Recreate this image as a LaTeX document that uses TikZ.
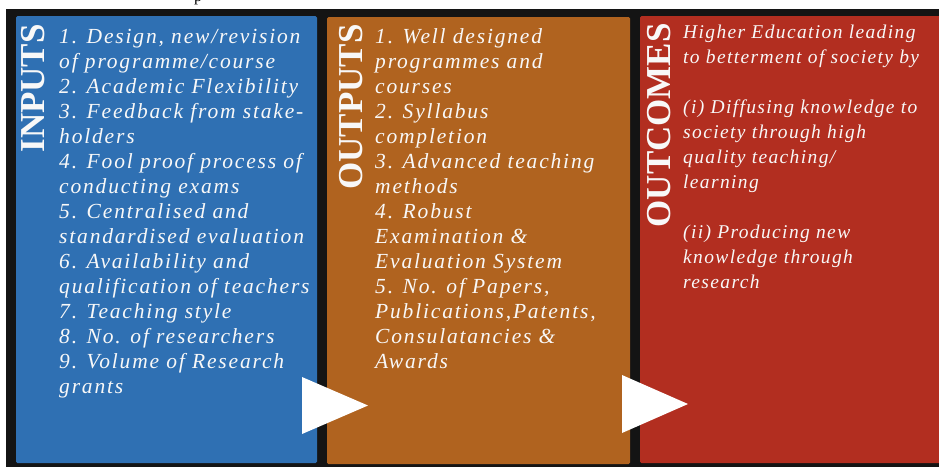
\documentclass[tikz,border=0pt]{standalone}
\usepackage{fontspec}
\setmainfont{Liberation Serif}
\newfontfamily\bodyfont[LetterSpace=8.5]{Liberation Serif}
\newfontfamily\redfont[LetterSpace=7]{Liberation Serif}
\definecolor{bgdark}{RGB}{20,20,20}
\definecolor{inblue}{RGB}{47,112,179}
\definecolor{outorange}{RGB}{176,99,31}
\definecolor{outcred}{RGB}{178,46,32}
\definecolor{txtwhite}{RGB}{248,248,248}
\tikzset{
  panel/.style={draw=none, rounded corners=1.5pt, inner sep=0pt, minimum width=#1},
  paneltitle/.style={rotate=90, anchor=base east, inner sep=0pt, text=txtwhite,
    font=\bfseries\fontsize{35}{35}\selectfont},
  paneltext/.style={anchor=north west, inner sep=0pt, align=left, text=txtwhite,
    font=\bodyfont\itshape\fontsize{21.5}{25}\selectfont},
  redtext/.style={anchor=north west, inner sep=0pt, align=left, text=txtwhite,
    font=\redfont\itshape\fontsize{19.5}{25}\selectfont},
  flowtri/.style={fill=white, draw=none}
}
\begin{document}
\begin{tikzpicture}[x=1pt,y=-1pt]
\useasboundingbox (0,0) rectangle (939,467);
\clip (0,0) rectangle (939,467);
\fill[white] (0,0) rectangle (939,467);
\node[anchor=base, inner sep=0pt, font=\fontsize{16}{16}\selectfont] (cut) at (198,1) {p};
\fill[bgdark] (6,9) rectangle (939,467);
% panels
\node[panel=301pt, fill=inblue, minimum height=447pt] (inputs) at (166.5,239.5) {};
\node[panel=303pt, fill=outorange, minimum height=447pt] (outputs) at (478.5,240.5) {};
\node[panel=305pt, fill=outcred, minimum height=447pt] (outcomes) at (792.5,239.5) {};
% titles
\node[paneltitle] (tin) at (44,24) {INPUTS};
\node[paneltitle] (tout) at (362,24) {OUTPUTS};
\node[paneltitle] (toc) at (670,23) {OUTCOMES};
% texts
\node[paneltext] (lin) at (59,25.5) {\strut 1. Design, new/revision\\
of programme/course\\
2. Academic Flexibility\\
3. Feedback from stake-\\
holders\\
4. Fool proof process of\\
conducting exams\\
5. Centralised and\\
standardised evaluation\\
6. Availability and\\
qualification of teachers\\
7. Teaching style\\
8. No. of researchers\\
9. Volume of Research\\
grants};
\node[paneltext] (lout) at (375,25.5) {\strut 1. Well designed\\
programmes and\\
courses\\
2. Syllabus\\
completion\\
3. Advanced teaching\\
methods\\
4. Robust\\
Examination \&\\
Evaluation System\\
5. No. of Papers,\\
Publications,Patents,\\
Consulatancies \&\\
Awards};
\node[redtext] (loc) at (683,21) {\strut Higher Education leading\\
to betterment of society by\\
\strut\\
(i) Diffusing knowledge to\\
society through high\\
quality teaching/\\
learning\\
\strut\\
(ii) Producing new\\
knowledge through\\
research};
% flow triangles
\fill[flowtri] (302,377) -- (302,434) -- (368,405.5) -- cycle;
\fill[flowtri] (622,375) -- (622,433) -- (688,404) -- cycle;
\end{tikzpicture}
\end{document}
